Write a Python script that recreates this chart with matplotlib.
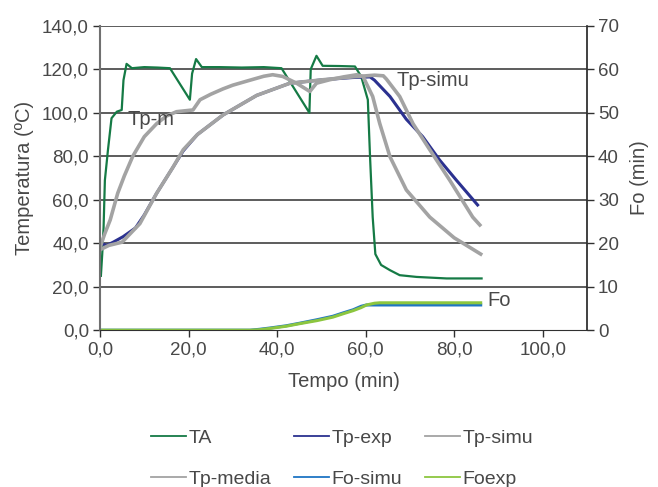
import matplotlib.pyplot as plt
from matplotlib.ticker import FuncFormatter

# tiempos (min) y valores
ta_t = [0.2, 0.5, 0.8, 1.1, 1.8, 2.6, 3.8, 4.9, 5.3, 6.0, 7.2, 10, 13, 15.8,
        20.3, 20.8, 21.7, 23.0, 27, 32, 37, 41.0, 47.3, 47.6, 48.9, 50.3, 54,
        57.6, 59.0, 60.5, 61.0, 61.6, 62.2, 63.5, 65.5, 67.7, 71.5, 78.3, 86.2]
ta_v = [25, 35, 47, 69, 83, 97.5, 100.5, 101.3, 115, 122.5, 120.5, 121, 120.8, 120.5,
        106, 118, 124.7, 121, 121, 120.8, 121, 120.5, 100, 120, 126.2, 121.6, 121.5,
        121.3, 116.7, 106, 79.8, 52, 35, 30, 27.6, 25.3, 24.5, 23.8, 23.8]

exp_t = [0.2, 1.5, 3, 5.2, 8, 10, 12.8, 16.5, 18.8, 22, 27.8, 35.4, 42.9, 50.4,
         57, 61, 62, 65.5, 69.2, 72.9, 76.7, 80.5, 85.3]
exp_v = [40, 39, 40.5, 43, 47, 53, 63, 75, 82.5, 90, 99, 108, 113.6, 115.2,
         116.2, 116.5, 115, 107.5, 97, 89, 78.3, 69, 57.6]

simu_t = [0, 2, 5, 9, 12.8, 16.5, 18.8, 22, 27.8, 35.4, 42.9, 50.4, 57, 62,
          64, 64.7, 67.7, 70.7, 74.5, 79, 84.2, 85.8]
simu_v = [37, 39, 40.5, 49, 63, 75, 83, 90, 99, 108, 113.6, 115.2, 116.5, 117.3,
          117, 115.5, 107.5, 95, 83, 69, 52, 48.4]

media_t = [0, 1, 2.3, 4, 5.5, 7.4, 10, 12.8, 15, 17.3, 21, 22.6, 25, 27.8, 30,
           33.9, 37, 39, 41.3, 44.4, 47.4, 48.9, 51.9, 55, 58, 59.4, 61.6, 63.2,
           65.5, 69.2, 74.5, 80, 86]
media_v = [38, 44, 50.7, 63, 71, 80, 89, 95, 98.5, 100.5, 101.3, 106, 108.5, 111,
           112.7, 115, 116.8, 117.5, 116.7, 113.6, 109.8, 113.6, 115.2, 116.5, 117.5,
           116.7, 107.5, 95, 79.8, 64.5, 52, 42.5, 35]

fo_t = [0, 33.9, 36, 38.4, 42, 45.1, 49, 52.6, 55, 57.2, 59, 60.2, 62, 63.2, 86]
fo_simu = [0, 0, 0.2, 0.5, 1.0, 1.6, 2.4, 3.2, 4.0, 4.7, 5.5, 5.8, 5.8, 5.8, 5.8]
fo_exp = [0, 0, 0.1, 0.4, 0.9, 1.5, 2.2, 3.0, 3.8, 4.5, 5.2, 5.8, 6.2, 6.3, 6.3]

plt.rcParams['font.family'] = ['Liberation Sans', 'DejaVu Sans']
plt.rcParams['font.size'] = 13.5
txt = '#484848'

fig = plt.figure(figsize=(6.58, 4.87), dpi=100)
ax = fig.add_axes([0.152, 0.322, 0.74, 0.625])
ax2 = ax.twinx()

ax.set_zorder(ax2.get_zorder() + 1)
ax.patch.set_visible(False)

for y in range(20, 141, 20):
    ax.axhline(y, color='#303030', lw=1.1, zorder=0)

l_ta, = ax.plot(ta_t, ta_v, color='#157a45', lw=1.6, label='TA')
l_exp, = ax.plot(exp_t, exp_v, color='#2b3190', lw=2.2, label='Tp-exp')
l_simu, = ax.plot(simu_t, simu_v, color='#a3a3a3', lw=2.6, label='Tp-simu')
l_media, = ax.plot(media_t, media_v, color='#a3a3a3', lw=2.6, label='Tp-media')
l_fos, = ax2.plot(fo_t, fo_simu, color='#1f75c4', lw=2.2, label='Fo-simu')
l_foe, = ax2.plot(fo_t, fo_exp, color='#8cc63f', lw=2.2, label='Foexp')

ax.set_xlim(0, 110)
ax.set_ylim(0, 140)
ax2.set_ylim(0, 70)
ax.set_xticks(range(0, 101, 20))
ax.set_yticks(range(0, 141, 20))
ax2.set_yticks(range(0, 71, 10))
comma = FuncFormatter(lambda v, p: f'{v:.1f}'.replace('.', ','))
ax.xaxis.set_major_formatter(comma)
ax.yaxis.set_major_formatter(comma)

for a in (ax, ax2):
    a.spines['top'].set_visible(False)
    a.tick_params(colors='#303030', labelcolor=txt, labelsize=13.5, length=5,
                  width=1, pad=3)
ax.spines['left'].set_color('#707070')
ax.spines['left'].set_linewidth(1.5)
ax2.spines['left'].set_visible(False)
ax.spines['right'].set_visible(False)
ax2.spines['right'].set_color('#202020')
ax2.spines['right'].set_linewidth(1.2)
ax.spines['bottom'].set_color('#303030')
ax2.spines['bottom'].set_visible(False)

ax.set_xlabel('Tempo (min)', color=txt, fontsize=14.5, labelpad=10)
ax.set_ylabel('Temperatura (ºC)', color=txt, fontsize=14.5, labelpad=6)
ax2.set_ylabel('Fo (min)', color=txt, fontsize=14.5, labelpad=8)

ax.text(6.3, 96.7, 'Tp-m', color=txt, fontsize=14.5, va='center')
ax.text(67, 115, 'Tp-simu', color=txt, fontsize=14.5, va='center')
ax.text(87.4, 13.8, 'Fo', color=txt, fontsize=14.5, va='center')

handles = [l_ta, l_media, l_exp, l_fos, l_simu, l_foe]
fig.legend(handles=handles, labels=[h.get_label() for h in handles], ncol=3,
           loc='center', bbox_to_anchor=(0.52, 0.058), frameon=False,
           handlelength=1.8, handletextpad=0.1, columnspacing=1.2,
           labelspacing=1.2, fontsize=14, labelcolor=txt)
for h in fig.legends[0].legend_handles:
    h.set_linewidth(1.3)

fig.savefig('out.png', dpi=100)
